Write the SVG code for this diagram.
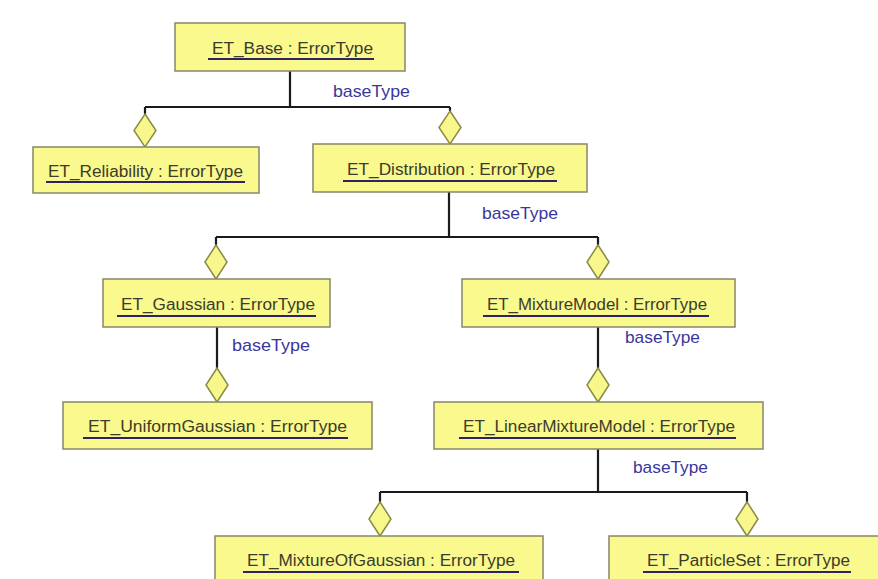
<svg xmlns="http://www.w3.org/2000/svg" width="878" height="579" viewBox="0 0 878 579">
<defs>
<style>
.box{fill:#f9f98e;stroke:#86866a;stroke-width:1.5}
.lbl{font-family:"Liberation Sans",Arial,sans-serif;font-size:16px;fill:#3c3c2a}
.ul{stroke:#2f2260;stroke-width:2}
.con{fill:none;stroke:#1a1a1a;stroke-width:2.2}
.dia{fill:#f7f78c;stroke:#8a8a48;stroke-width:1.5}
.bt{font-family:"Liberation Sans",Arial,sans-serif;font-size:17px;fill:#3a36a0}
</style>
</defs>
<rect width="878" height="579" fill="#fff"/>
<g id="connectors">
<path class="con" d="M290,71 V107 M145,107 H450 M145,107 V114 M450,107 V111"/>
<path class="con" d="M449,192 V237 M216,237 H598 M216,237 V245 M598,237 V245"/>
<path class="con" d="M217,327 V368"/>
<path class="con" d="M598,327 V368"/>
<path class="con" d="M598,448 V492 M380,492 H747 M380,492 V502 M747,492 V502"/>
<polygon class="dia" points="145,114 156,130.5 145,147 134,130.5"/>
<polygon class="dia" points="450,111 461,127.5 450,144 439,127.5"/>
<polygon class="dia" points="216,245 227,262 216,279 205,262"/>
<polygon class="dia" points="598,245 609,262 598,279 587,262"/>
<polygon class="dia" points="217,368 228,385 217,402 206,385"/>
<polygon class="dia" points="598,368 609,385 598,402 587,385"/>
<polygon class="dia" points="380,502 391,519 380,536 369,519"/>
<polygon class="dia" points="747,502 758,519 747,536 736,519"/>
<text class="bt" x="333" y="97" textLength="77" lengthAdjust="spacingAndGlyphs">baseType</text>
<text class="bt" x="482" y="219" textLength="76" lengthAdjust="spacingAndGlyphs">baseType</text>
<text class="bt" x="232" y="351" textLength="78" lengthAdjust="spacingAndGlyphs">baseType</text>
<text class="bt" x="625" y="343" textLength="75" lengthAdjust="spacingAndGlyphs">baseType</text>
<text class="bt" x="633" y="473" textLength="75" lengthAdjust="spacingAndGlyphs">baseType</text>
</g>
<g id="et_base">
<rect class="box" x="175" y="23" width="230" height="48"/>
<text class="lbl" x="212" y="54" textLength="161" lengthAdjust="spacingAndGlyphs">ET_Base : ErrorType</text>
<line class="ul" x1="208" y1="59" x2="374" y2="59"/>
</g>
<g id="et_reliability">
<rect class="box" x="33" y="147" width="226" height="46"/>
<text class="lbl" x="48" y="177" textLength="195" lengthAdjust="spacingAndGlyphs">ET_Reliability : ErrorType</text>
<line class="ul" x1="46" y1="182" x2="245" y2="182"/>
</g>
<g id="et_distribution">
<rect class="box" x="313" y="144" width="274" height="48"/>
<text class="lbl" x="347" y="175" textLength="208" lengthAdjust="spacingAndGlyphs">ET_Distribution : ErrorType</text>
<line class="ul" x1="343" y1="181" x2="557" y2="181"/>
</g>
<g id="et_gaussian">
<rect class="box" x="103" y="279" width="227" height="48"/>
<text class="lbl" x="121" y="310" textLength="194" lengthAdjust="spacingAndGlyphs">ET_Gaussian : ErrorType</text>
<line class="ul" x1="117" y1="316" x2="316" y2="316"/>
</g>
<g id="et_mixturemodel">
<rect class="box" x="462" y="279" width="273" height="48"/>
<text class="lbl" x="487" y="310" textLength="220" lengthAdjust="spacingAndGlyphs">ET_MixtureModel : ErrorType</text>
<line class="ul" x1="483" y1="316" x2="709" y2="316"/>
</g>
<g id="et_uniformgaussian">
<rect class="box" x="63" y="402" width="309" height="47"/>
<text class="lbl" x="88" y="432" textLength="259" lengthAdjust="spacingAndGlyphs">ET_UniformGaussian : ErrorType</text>
<line class="ul" x1="83" y1="438" x2="348" y2="438"/>
</g>
<g id="et_linearmixturemodel">
<rect class="box" x="434" y="402" width="329" height="47"/>
<text class="lbl" x="463" y="432" textLength="272" lengthAdjust="spacingAndGlyphs">ET_LinearMixtureModel : ErrorType</text>
<line class="ul" x1="459" y1="438" x2="736" y2="438"/>
</g>
<g id="et_mixtureofgaussian">
<rect class="box" x="215" y="536" width="328" height="48"/>
<text class="lbl" x="247" y="566" textLength="268" lengthAdjust="spacingAndGlyphs">ET_MixtureOfGaussian : ErrorType</text>
<line class="ul" x1="243" y1="572" x2="519" y2="572"/>
</g>
<g id="et_particleset">
<rect class="box" x="609" y="536" width="280" height="48"/>
<text class="lbl" x="647" y="566" textLength="203" lengthAdjust="spacingAndGlyphs">ET_ParticleSet : ErrorType</text>
<line class="ul" x1="643" y1="572" x2="851" y2="572"/>
</g>
</svg>
